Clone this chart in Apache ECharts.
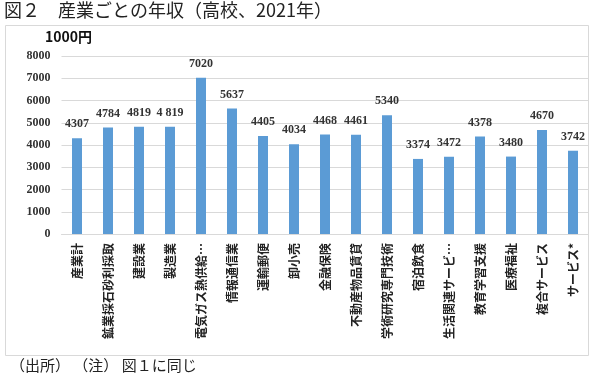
<!DOCTYPE html>
<html><head><meta charset="utf-8">
<script src="https://cdn.jsdelivr.net/npm/echarts@6/dist/echarts.min.js"></script>
<style>html,body{margin:0;padding:0;background:#fff}#c{width:600px;height:379px}</style>
</head><body><div id="c"></div>
<script>
const categories = ['産業計','鉱業採石砂利採取','建設業','製造業','電気ガス熱供給…','情報通信業','運輸郵便','卸小売','金融保険','不動産物品賃貸','学術研究専門技術','宿泊飲食','生活関連サービ…','教育学習支援','医療福祉','複合サービス','サービス*'];
const values = [4307,4784,4819,4819,7020,5637,4405,4034,4468,4461,5340,3374,3472,4378,3480,4670,3742];
const valueLabels = ['4307','4784','4819','4 819','7020','5637','4405','4034','4468','4461','5340','3374','3472','4378','3480','4670','3742'];
const yTicks = [0,1000,2000,3000,4000,5000,6000,7000,8000];
const titleText = '図２　産業ごとの年収（高校、2021年）';
const unitText = '1000円';
const noteText = '（出所） （注） 図１に同じ';

const chart = echarts.init(document.getElementById('c'), null, {renderer:'canvas'});
const jp = '"Noto Sans CJK JP", sans-serif';
chart.setOption({
  animation:false,
  backgroundColor:'#fff',
  graphic:[
    {type:'rect', shape:{x:5.5,y:25.5,width:583,height:330}, style:{fill:'none',stroke:'#d9d9d9',lineWidth:1}, z:-1},
    {type:'text', left:4, top:1, style:{text:titleText, font:'18px '+jp, fill:'#222'}},
    {type:'text', left:45, top:30, style:{text:unitText, font:'bold 14px '+jp, fill:'#111'}},
    {type:'text', left:10, top:358, style:{text:noteText, font:'15px '+jp, fill:'#222'}}
  ],
  grid:{left:61.5, right:11.5, top:56, bottom:145},
  xAxis:{
    type:'category', data:categories,
    axisLine:{lineStyle:{color:'#d9d9d9'}},
    axisTick:{show:false},
    axisLabel:{rotate:90, interval:0, margin:9, color:'#222', fontWeight:'bold', fontSize:12, fontFamily:'"Noto Sans CJK JP"'}
  },
  yAxis:{
    type:'value', min:yTicks[0], max:yTicks[yTicks.length-1], interval:1000,
    axisLine:{show:false}, axisTick:{show:false},
    splitLine:{lineStyle:{color:'#d9d9d9'}},
    axisLabel:{margin:11, color:'#333', fontWeight:'bold', fontSize:12, fontFamily:'"Liberation Serif"', formatter:v=>String(v)}
  },
  series:[{
    type:'bar', data:values, barWidth:10,
    itemStyle:{color:'#5b9bd5'},
    label:{show:true, position:'top', distance:8, color:'#333', fontWeight:'bold', fontSize:12, fontFamily:'"Liberation Serif"',
      formatter:p=>valueLabels[p.dataIndex]}
  }]
});
</script></body></html>
